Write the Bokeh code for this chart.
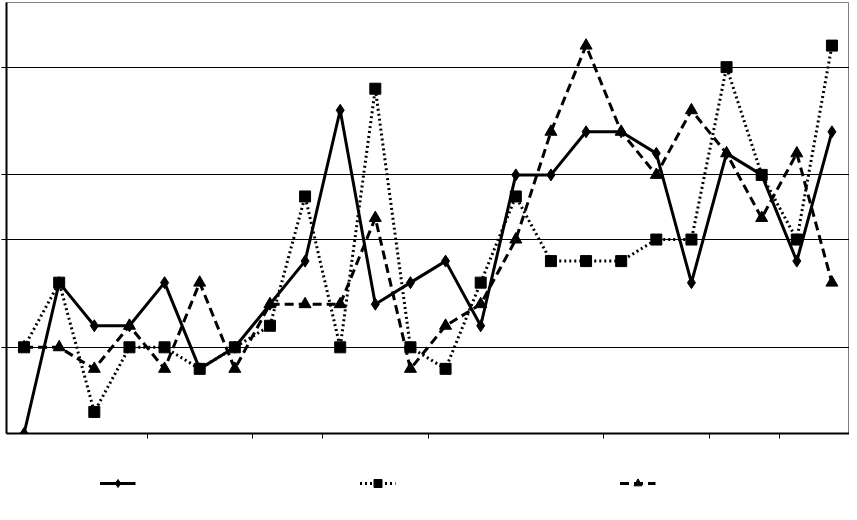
from bokeh.plotting import figure
from bokeh.models import (FixedTicker, CustomJSTickFormatter, Legend, LegendItem,
                          Range1d, ColumnDataSource)
from bokeh.layouts import column
from bokeh.embed import file_html
from bokeh.resources import INLINE

# category positions 1..24 (plotted at slot centres)
categories = list(range(1, 25))
series_solid = [0, 7, 5, 5, 7, 3, 4, 6, 8, 15, 6, 7, 8, 5, 12, 12, 14, 14, 13, 7, 13, 12, 8, 14]
series_dotted = [4, 7, 1, 4, 4, 3, 4, 5, 11, 4, 16, 4, 3, 7, 11, 8, 8, 8, 9, 9, 17, 12, 9, 18]
series_dashed = [4, 4, 3, 5, 3, 7, 3, 6, 6, 6, 10, 3, 5, 6, 9, 14, 18, 14, 12, 15, 13, 10, 13, 7]
x_ticks = [4, 7, 9, 12, 17, 20, 22]
y_ticks = [4, 9, 12, 17]

xs = [c - 0.5 for c in categories]
src = ColumnDataSource(dict(x=xs, a=series_solid, b=series_dotted, c=series_dashed))

styles = [
    dict(line=dict(line_color="black", line_width=3), marker="diamond", size=12),
    dict(line=dict(line_color="black", line_width=3, line_dash="2 3"), marker="square", size=11),
    dict(line=dict(line_color="black", line_width=3, line_dash="9 5"), marker="triangle", size=12),
]

p = figure(width=849, height=441, output_backend="svg", toolbar_location=None,
           x_range=Range1d(0, 24), y_range=Range1d(0, 20),
           min_border_left=6, min_border_right=0, min_border_top=2, min_border_bottom=8)
p.background_fill_color = "white"
p.border_fill_color = "white"
p.outline_line_color = "#808080"
p.outline_line_width = 1

blank = CustomJSTickFormatter(code="return ''")
for ax in (p.xaxis[0], p.yaxis[0]):
    ax.formatter = blank
    ax.major_label_standoff = 0
    ax.major_label_text_font_size = "1px"
    ax.minor_tick_line_color = None
    ax.major_tick_in = 0
    ax.major_tick_out = 5
    ax.major_tick_line_color = "black"
    ax.axis_line_color = "black"
    ax.axis_line_width = 2
p.xaxis[0].ticker = FixedTicker(ticks=x_ticks)
p.yaxis[0].ticker = FixedTicker(ticks=y_ticks)
p.xgrid.grid_line_color = None
p.ygrid.ticker = FixedTicker(ticks=y_ticks)
p.ygrid.grid_line_color = "black"
p.ygrid.grid_line_width = 1.2

for col, st in zip(["a", "b", "c"], styles):
    p.line("x", col, source=src, **st["line"])
    p.scatter("x", col, source=src, marker=st["marker"], size=st["size"],
              fill_color="black", line_color="black")

# legend strip below the chart (its series are drawn out of view; only the key shows)
lg = figure(width=849, height=71, output_backend="svg", toolbar_location=None,
            x_axis_type=None, y_axis_type=None, x_range=Range1d(0, 24), y_range=Range1d(100, 101),
            min_border_left=6, min_border_right=0, min_border_top=0, min_border_bottom=0)
lg.outline_line_color = None
lg.xgrid.grid_line_color = None
lg.ygrid.grid_line_color = None
lg.background_fill_color = "white"
lg.border_fill_color = "white"
items = []
for col, st in zip(["a", "b", "c"], styles):
    r1 = lg.line("x", col, source=src, **st["line"])
    r2 = lg.scatter("x", col, source=src, marker=st["marker"], size=st["size"],
                    fill_color="black", line_color="black")
    items.append(LegendItem(label="\u00a0", renderers=[r1, r2]))
legend = Legend(items=items, orientation="horizontal", location="top_center",
                glyph_width=36, glyph_height=20, label_standoff=0, label_width=101,
                spacing=123, padding=0, margin=32,
                border_line_alpha=0, background_fill_alpha=0,
                label_text_font_size="10px")
lg.add_layout(legend, "center")

layout = column(p, lg, spacing=0)
open("out.html", "w").write(file_html(layout, INLINE))
